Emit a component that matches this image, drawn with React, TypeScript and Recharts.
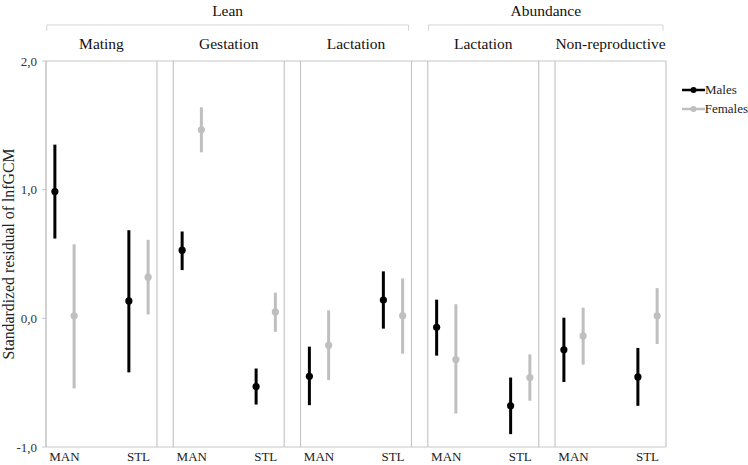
import React from "react";
import {
  ComposedChart,
  Scatter,
  ErrorBar,
  XAxis,
  YAxis,
  ReferenceLine,
  Legend,
} from "recharts";

// panels, left to right
const panelNames = ["Mating", "Gestation", "Lactation", "Lactation", "Non-reproductive"];
const groupNames = ["Lean", "Abundance"];
const groupFirstPanel = [0, 3];
const groupLastPanel = [2, 4];
const categories = ["MAN", "STL"];
const yTicks = [-1, 0, 1, 2];
const seriesNames = ["Males", "Females"];

// values per panel x category: Mating MAN, Mating STL, Gestation MAN, ...
const malesMean = [0.985, 0.135, 0.53, -0.53, -0.45, 0.142, -0.07, -0.68, -0.245, -0.455];
const malesLow = [0.62, -0.42, 0.375, -0.67, -0.675, -0.08, -0.29, -0.9, -0.495, -0.68];
const malesHigh = [1.35, 0.685, 0.675, -0.39, -0.22, 0.365, 0.145, -0.46, 0.005, -0.23];
const femalesMean = [0.02, 0.32, 1.465, 0.05, -0.21, 0.021, -0.32, -0.46, -0.137, 0.02];
const femalesLow = [-0.545, 0.03, 1.29, -0.105, -0.48, -0.275, -0.74, -0.64, -0.36, -0.2];
const femalesHigh = [0.575, 0.61, 1.64, 0.2, 0.062, 0.31, 0.11, -0.28, 0.083, 0.235];

// layout on the numeric x axis (1 unit = distance MAN -> STL)
const STRIDE = 1.72;
const PANEL_W = 1.5;
const PAD = 0.25;
const SHIFT = 0.13;
const X_MAX = (panelNames.length - 1) * STRIDE + PANEL_W;

const BLACK = "#000000";
const GREY = "#bfbfbf";
const LINE = "#c6c6c6";
const FONT = '"Liberation Serif", "Times New Roman", serif';
const seriesColors = [BLACK, GREY];

const catX = (p: number, c: number) => p * STRIDE + PAD + c;

const catTicks: number[] = [];
const catTickLabels: string[] = [];
panelNames.forEach((_, p) =>
  categories.forEach((c, ci) => {
    catTicks.push(catX(p, ci));
    catTickLabels.push(c);
  })
);

function buildSeries(mean: number[], low: number[], high: number[], shift: number) {
  return mean.map((m, i) => ({
    x: catX(Math.floor(i / 2), i % 2) + shift,
    y: m,
    err: [m - low[i], high[i] - m],
  }));
}

const males = buildSeries(malesMean, malesLow, malesHigh, -SHIFT);
const females = buildSeries(femalesMean, femalesLow, femalesHigh, SHIFT);

const dot = (color: string) => (props: any) =>
  <circle cx={props.cx} cy={props.cy} r={3.6} fill={color} />;

const YLabel = (props: any) => {
  const vb = props.viewBox || { x: 0, y: 61, width: 46, height: 386 };
  const cx = vb.x + 8;
  const cy = vb.y + vb.height / 2;
  return (
    <text
      x={cx}
      y={cy}
      transform={`rotate(-90 ${cx} ${cy})`}
      textAnchor="middle"
      dominantBaseline="central"
      fontSize={15.8}
      fill="#222"
      fontFamily={FONT}
    >
      Standardized residual of lnfGCM
    </text>
  );
};

const renderLegend = () => (
  <div style={{ fontFamily: FONT, fontSize: 13, color: "#222" }}>
    {seriesNames.map((name, i) => (
      <div key={name} style={{ display: "flex", alignItems: "center", height: 19 }}>
        <svg width={23} height={10}>
          <line x1={0} y1={5} x2={23} y2={5} stroke={seriesColors[i]} strokeWidth={2.5} />
          <circle cx={11.5} cy={5} r={3} fill={seriesColors[i]} />
        </svg>
        <span>{name}</span>
      </div>
    ))}
  </div>
);

export default function App() {
  return (
    <div style={{ position: "absolute", left: 0, top: 0, fontFamily: FONT }}>
      <ComposedChart
        width={748}
        height={465}
        margin={{ top: 61, right: 82, bottom: 0, left: 0 }}
      >
        <XAxis
          dataKey="x"
          type="number"
          domain={[0, X_MAX]}
          allowDataOverflow
          ticks={catTicks}
          interval={0}
          tickFormatter={(v: number) => catTickLabels[catTicks.indexOf(v)] ?? ""}
          tickLine={false}
          tickSize={0}
          tickMargin={5}
          axisLine={{ stroke: LINE }}
          tick={{ fontSize: 13, fill: "#222", fontFamily: FONT }}
          height={18}
        />
        <YAxis
          type="number"
          domain={[-1, 2]}
          ticks={yTicks}
          allowDataOverflow
          tickFormatter={(v: number) => v.toFixed(1).replace(".", ",")}
          tickSize={4}
          tickMargin={5}
          tickLine={{ stroke: LINE }}
          axisLine={{ stroke: LINE }}
          tick={{ fontSize: 13, fill: "#333", fontFamily: FONT }}
          width={46}
          label={<YLabel />}
        />

        <ReferenceLine y={2} stroke={LINE} />
        {panelNames.map((_, p) => (
          <ReferenceLine key={`l${p}`} x={p * STRIDE} stroke={LINE} strokeWidth={1.2} />
        ))}
        {panelNames.map((_, p) => (
          <ReferenceLine key={`r${p}`} x={p * STRIDE + PANEL_W} stroke={LINE} strokeWidth={1.2} />
        ))}

        {/* panel titles */}
        {panelNames.map((name, p) => (
          <ReferenceLine
            key={`t${p}`}
            segment={[{ x: p * STRIDE, y: 2 }, { x: p * STRIDE + PANEL_W, y: 2 }]}
            stroke="none"
            label={{ value: name, position: "top", offset: 12, fontSize: 15.5, fill: "#111", fontFamily: FONT }}
          />
        ))}

        {/* group brackets */}
        {groupNames.map((g, gi) => {
          const x0 = groupFirstPanel[gi] * STRIDE + 0.01;
          const x1 = groupLastPanel[gi] * STRIDE + PANEL_W - 0.04;
          return (
            <React.Fragment key={g}>
              <ReferenceLine
                segment={[{ x: x0, y: 2.28 }, { x: x1, y: 2.28 }]}
                ifOverflow="visible"
                stroke="#d4d4d4"
                label={{ value: g, position: "top", offset: 9, fontSize: 15.5, fill: "#111", fontFamily: FONT }}
              />
              <ReferenceLine
                segment={[{ x: x0, y: 2.28 }, { x: x0, y: 2.235 }]}
                ifOverflow="visible"
                stroke="#d4d4d4"
              />
              <ReferenceLine
                segment={[{ x: x1, y: 2.28 }, { x: x1, y: 2.235 }]}
                ifOverflow="visible"
                stroke="#d4d4d4"
              />
            </React.Fragment>
          );
        })}

        <Scatter
          name={seriesNames[0]}
          data={males}
          dataKey="y"
          fill={BLACK}
          shape={dot(BLACK)}
          isAnimationActive={false}
        >
          <ErrorBar dataKey="err" direction="y" width={0} stroke={BLACK} strokeWidth={3} isAnimationActive={false} />
        </Scatter>
        <Scatter
          name={seriesNames[1]}
          data={females}
          dataKey="y"
          fill={GREY}
          shape={dot(GREY)}
          isAnimationActive={false}
        >
          <ErrorBar dataKey="err" direction="y" width={0} stroke={GREY} strokeWidth={3} isAnimationActive={false} />
        </Scatter>

        <Legend
          layout="horizontal"
          verticalAlign="middle"
          align="center"
          content={renderLegend}
          wrapperStyle={{ left: 682, top: 80, width: 66 }}
        />
      </ComposedChart>
    </div>
  );
}
